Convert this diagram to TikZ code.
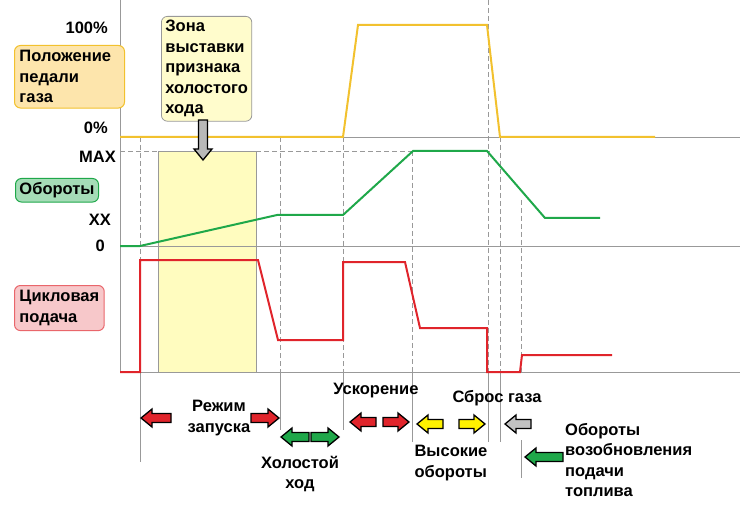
\documentclass[tikz,border=0pt]{standalone}
\usepackage{fontspec}
\setmainfont{Liberation Sans}
\definecolor{ped}{HTML}{F2C12E}
\definecolor{rpm}{HTML}{1FA84A}
\definecolor{fuel}{HTML}{E0242B}
\definecolor{grid}{HTML}{999999}
\begin{document}
\begin{tikzpicture}[x=1pt,y=-1pt,
 txt/.style={font=\fontsize{16.5}{20.5}\selectfont\bfseries,inner sep=0pt},
 lab/.style={txt,align=left,rounded corners=6pt,inner sep=5pt,line width=1pt},
 gl/.style={grid,line width=0.8pt},
 dl/.style={gl,dash pattern=on 5pt off 3pt,line width=0.6pt},
 pics/barr/.style args={#1/#2}{code={
   \filldraw[fill=#1,draw=black,line width=1.3pt,line join=miter]
     (-#2/2,0) -- (-#2/2+11,-9) -- (-#2/2+11,-4.5) -- (#2/2,-4.5) -- (#2/2,4.5) -- (-#2/2+11,4.5) -- (-#2/2+11,9) -- cycle;}}]
\useasboundingbox (0,0) rectangle (745,508);
% zone
\fill[yellow!25,draw=grid] (158,151) rectangle (256,372);
% grid
\draw[gl] (120,0) -- (120,372);
\draw[gl] (120,137) -- (740,137);
\draw[gl] (120,246) -- (740,246);
\draw[gl] (120,372) -- (740,372);
\draw[dl] (120,151) -- (490,151);
% verticals
\draw[dl] (140,137) -- (140,372); \draw[gl,line width=0.6pt] (140,372) -- (140,462);
\draw[dl] (280,137) -- (280,372); \draw[gl,line width=0.6pt] (280,372) -- (280,430);
\draw[dl] (343,137) -- (343,372); \draw[gl,line width=0.6pt] (343,372) -- (343,430);
\draw[dl] (412,151) -- (412,372); \draw[gl,line width=0.6pt] (412,372) -- (412,442);
\draw[dl] (488,0) -- (488,372); \draw[gl,line width=0.6pt] (488,372) -- (488,442);
\draw[dl] (500,137) -- (500,372); \draw[gl,line width=0.6pt] (500,372) -- (500,442);
\draw[dl] (521,200) -- (521,372); \draw[gl,line width=0.6pt] (521,440) -- (521,478);
% curves
\draw[ped,line width=2pt] (120,137) -- (343,137) -- (358,25) -- (487,25) -- (500,137) -- (655,137);
\draw[rpm,line width=2pt] (120,246) -- (140,246) -- (277,215) -- (343,215) -- (413,151) -- (487,151) -- (545,218) -- (600,218);
\draw[fuel,line width=2pt] (120,372) -- (140,372) -- (140,260) -- (258,260) -- (278,340) -- (343,340) -- (343,262) -- (405,262) -- (420,328) -- (487,328) -- (487,372) -- (520,372) -- (522,355) -- (612,355);
% axis labels
\node[txt,anchor=east] (p100) at (108,28) {100\%};
\node[txt,anchor=east] (p0) at (108,128) {0\%};
\node[txt,anchor=east] (rmax) at (116,157) {MAX};
\node[txt,anchor=east] (rxx) at (111,220) {XX};
\node[txt,anchor=east] (r0) at (105,246) {0};
% label boxes
\node[lab,fill=yellow!40!orange!30,draw=ped,anchor=north west,text width=100pt] (pedal) at (14,45) {Положение\\педали\\газа};
\node[lab,fill=rpm!40,draw=rpm,anchor=north west,inner sep=4pt] (obor) at (15,178) {Обороты};
\node[lab,fill=fuel!25,draw=fuel!70,anchor=north west] (feed) at (14,285) {Цикловая\\подача};
\node[lab,fill=yellow!20,draw=grid,anchor=north west,line width=0.8pt,inner sep=4pt] (zone) at (161,16) {Зона\\выставки\\признака\\холостого\\хода};
\pic[rotate=90] (zarr) at (203,140) {barr={grid!70/40}};
% phase labels and arrows
\pic (a1) at (156,418) {barr={fuel/30}};
\node[txt,align=center] (t1) at (219,418) {Режим\\запуска};
\pic[xscale=-1] (a2) at (265,418) {barr={fuel/28}};
\pic (a3) at (295,437) {barr={rpm/28}};
\pic[xscale=-1] (a4) at (325,437) {barr={rpm/28}};
\node[txt,align=center] (t2) at (300,474) {Холостой\\ход};
\node[txt] (t3) at (376,391) {Ускорение};
\pic (a5) at (363,422) {barr={fuel/26}};
\pic[xscale=-1] (a6) at (396,422) {barr={fuel/26}};
\pic (a7) at (430,424) {barr={yellow/26}};
\pic[xscale=-1] (a8) at (472,424) {barr={yellow/26}};
\node[txt,align=left] (t4) at (451,463) {Высокие\\обороты};
\node[txt] (t5) at (497,398) {Сброс газа};
\pic (a9) at (518,424) {barr={grid!60/26}};
\pic (a10) at (544,457) {barr={rpm/38}};
\node[txt,align=left,anchor=north west] (t6) at (565,423) {Обороты\\возобновления\\подачи\\топлива};
\end{tikzpicture}
\end{document}
